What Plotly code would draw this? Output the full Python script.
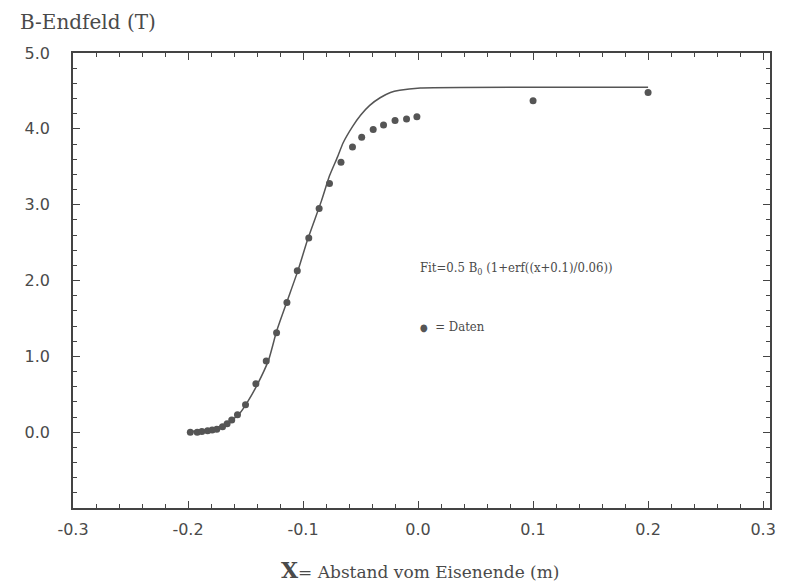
import plotly.graph_objects as go

# Measured data points (x in m, B in T)
data_x = [-0.198, -0.192, -0.188, -0.183, -0.179, -0.175, -0.170, -0.166, -0.162, -0.157,
          -0.150, -0.141, -0.132, -0.123, -0.114, -0.105, -0.095, -0.086, -0.077, -0.067,
          -0.057, -0.049, -0.039, -0.030, -0.020, -0.010, -0.001, 0.100, 0.200]
data_y = [0.00, 0.00, 0.01, 0.02, 0.03, 0.04, 0.07, 0.11, 0.16, 0.23,
          0.36, 0.64, 0.94, 1.31, 1.71, 2.13, 2.56, 2.95, 3.28, 3.56,
          3.76, 3.89, 3.99, 4.05, 4.11, 4.13, 4.16, 4.37, 4.48]

# Fit curve
fit_x = [-0.200, -0.190, -0.178, -0.170, -0.161, -0.155, -0.149, -0.140, -0.130, -0.123,
         -0.114, -0.104, -0.096, -0.084, -0.077, -0.070, -0.065, -0.057, -0.050, -0.042,
         -0.033, -0.024, -0.016, 0.002, 0.100, 0.200]
fit_y = [0.01, 0.02, 0.05, 0.09, 0.17, 0.25, 0.38, 0.62, 0.95, 1.33,
         1.72, 2.15, 2.54, 3.05, 3.38, 3.63, 3.82, 4.03, 4.18, 4.31,
         4.41, 4.48, 4.51, 4.54, 4.55, 4.55]

x_tickvals = [-0.3, -0.2, -0.1, 0.0, 0.1, 0.2, 0.3]
x_ticktext = ["-0.3", "-0.2", "-0.1", "0.0", "0.1", "0.2", "0.3"]
y_tickvals = [0, 1, 2, 3, 4, 5]
y_ticktext = ["0.0", "1.0", "2.0", "3.0", "4.0", "5.0"]

INK = "#4a4a4a"

fig = go.Figure()
fig.add_trace(go.Scatter(x=fit_x, y=fit_y, mode="lines",
                         line=dict(color="#555555", width=1.5, shape="spline", smoothing=0.6),
                         showlegend=False, hoverinfo="skip"))
fig.add_trace(go.Scatter(x=data_x, y=data_y, mode="markers",
                         marker=dict(color="#555555", size=7),
                         showlegend=False))

axis_common = dict(showline=True, linecolor="#444444", linewidth=1.5, mirror="ticks",
                   ticks="inside", tickcolor="#444444", showgrid=False, zeroline=False,
                   tickfont=dict(family="DejaVu Sans", size=16, color=INK))

fig.update_xaxes(range=[-0.3, 0.306], tickmode="array", tickvals=x_tickvals, ticktext=x_ticktext,
                 ticklen=7, tickwidth=1.2, ticklabelstandoff=6,
                 minor=dict(tickmode="linear", tick0=0, dtick=0.02, ticklen=4, ticks="inside",
                            tickcolor="#444444", tickwidth=1),
                 **axis_common)
fig.update_yaxes(range=[-1, 5], tickmode="array", tickvals=y_tickvals, ticktext=y_ticktext,
                 ticklen=7, tickwidth=1.2, ticklabelstandoff=18,
                 minor=dict(tickmode="linear", tick0=0, dtick=0.2, ticklen=4, ticks="inside",
                            tickcolor="#444444", tickwidth=1),
                 **axis_common)

fig.add_annotation(text="B-Endfeld (T)", xref="paper", yref="paper", x=-0.079, y=1.068,
                   xanchor="left", yanchor="middle", showarrow=False,
                   font=dict(family="DejaVu Serif", size=20, color=INK))
fig.add_annotation(text="<b><span style='font-size:22px'>X</span></b>= Abstand vom Eisenende (m)",
                   xref="paper", yref="paper", x=0.498, y=-0.136,
                   xanchor="center", yanchor="middle", showarrow=False,
                   font=dict(family="DejaVu Serif", size=17, color=INK))
fig.add_annotation(text="Fit=0.5 B<sub>0</sub> (1+erf((x+0.1)/0.06))",
                   xref="paper", yref="paper", x=0.495, y=0.527,
                   xanchor="left", yanchor="middle", showarrow=False,
                   font=dict(family="DejaVu Serif Condensed, DejaVu Serif", size=13, color=INK))
fig.add_annotation(text="<span style='font-size:10px;color:#555555'>●</span>  = Daten",
                   xref="paper", yref="paper", x=0.495, y=0.40,
                   xanchor="left", yanchor="middle", showarrow=False,
                   font=dict(family="DejaVu Serif Condensed, DejaVu Serif", size=13, color=INK))

fig.update_layout(width=792, height=587, margin=dict(l=73, r=22, t=53, b=79),
                  paper_bgcolor="white", plot_bgcolor="white")

fig.write_html("out.html", config={"displayModeBar": False},
               post_script="document.body.style.margin='0px';")
